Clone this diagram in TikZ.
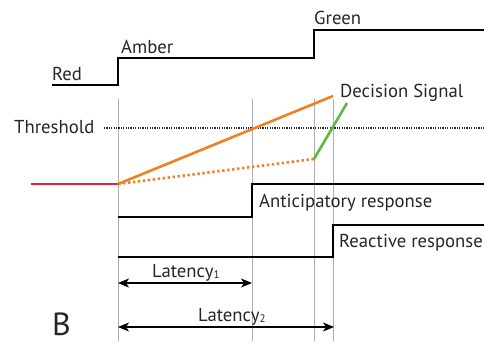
\documentclass[tikz,border=0pt]{standalone}
\usepackage{fontspec}
\setmainfont{PT Sans}
\usetikzlibrary{arrows.meta}
\definecolor{sigorange}{RGB}{240,128,36}
\definecolor{sigred}{RGB}{222,36,62}
\definecolor{siggreen}{RGB}{96,184,64}
\definecolor{guide}{RGB}{175,175,175}
\definecolor{thresh}{RGB}{40,40,55}
\tikzset{
  level/.style={line width=2.6pt, black, line join=miter},
  guideline/.style={line width=0.9pt, guide},
  lbl/.style={inner sep=0pt, anchor=base west, font=\fontsize{18.7}{20}\selectfont, text=black!85},
  latarrow/.style={line width=1.1pt, black, {Stealth[length=11pt,width=9pt,inset=3pt]}-{Stealth[length=11pt,width=9pt,inset=3pt]}},
}
\newcommand{\subdigit}[1]{{\fontsize{11}{12}\selectfont\raisebox{-0.2ex}{#1}}}
\begin{document}
\begin{tikzpicture}[x=1pt,y=-1pt]
\useasboundingbox (0,0) rectangle (484,345);

% vertical guide lines at the event times
\foreach \t in {118,252,314,333}
  \draw[guideline] (\t,99) -- (\t,341);

% traffic light level trace
\draw[level] (52,85) -- (118,85) -- (118,58) -- (314,58) -- (314,30) -- (484,30);
\node[lbl] (red) at (52,81) {Red};
\node[lbl] (amber) at (121,53) {Amber};
\node[lbl] (green) at (314,25) {Green};

% threshold
\draw[thresh, line width=1.1pt, dash pattern=on 1.1pt off 1.3pt] (104,128) -- (484,128);
\node[lbl] (threshold) at (14,133) {Threshold};

% decision signals
\coordinate (start) at (118,184);
\coordinate (peak) at (333,96);
\coordinate (knee) at (314,159);
\coordinate (gtop) at (347,103);
\draw[sigred, line width=2.6pt] (31,184) -- (start);
\draw[sigorange, line width=2.6pt] (start) -- (peak);
\draw[sigorange, line width=2.6pt, dash pattern=on 2.4pt off 2.6pt] (start) -- (knee);
\draw[siggreen, line width=2.6pt] (knee) -- (gtop);
\node[lbl] (decision) at (340,97) {Decision Signal};

% anticipatory response
\draw[level] (118,217) -- (252,217) -- (252,184) -- (484,184);
\node[lbl] (antic) at (259,207) {Anticipatory response};

% reactive response
\draw[level] (118,257) -- (333,257) -- (333,225) -- (484,225);
\node[lbl] (react) at (339,247) {Reactive response};

% latencies
\coordinate (l1a) at (118,283);
\coordinate (l1b) at (252,283);
\coordinate (l2a) at (118,327);
\coordinate (l2b) at (334,327);
\draw[latarrow] (l1a) -- (l1b);
\draw[latarrow] (l2a) -- (l2b);
\node[lbl] (lat1) at (152,277) {Latency\subdigit{1}};
\node[lbl] (lat2) at (198,321) {Latency\subdigit{2}};

\node[lbl, font=\fontsize{32}{34}\selectfont] (panel) at (52,335) {B};
\end{tikzpicture}
\end{document}
